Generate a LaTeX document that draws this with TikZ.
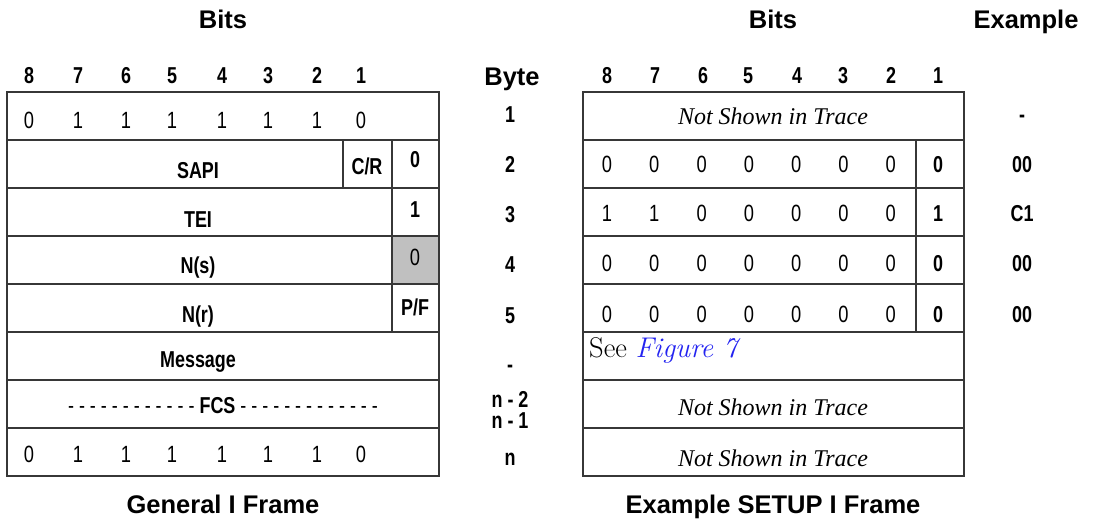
\documentclass[tikz,border=0pt]{standalone}
\usepackage{fontspec}
\newfontfamily\arial{Liberation Sans}
\newfontfamily\cond[FakeStretch=0.78]{Liberation Sans}
\newfontfamily\timesf{Liberation Serif}
\definecolor{linkblue}{RGB}{35,35,240}
\definecolor{cellgray}{RGB}{192,192,192}
\definecolor{gridc}{RGB}{55,55,55}
\begin{document}
\begin{tikzpicture}[x=1pt,y=-1pt,
  grid/.style={draw=gridc,line width=1.4pt},
  title/.style={anchor=base,inner sep=0pt,font=\arial\bfseries\fontsize{25.5}{30}\selectfont},
  bitv/.style={anchor=base,inner sep=0pt,font=\cond\fontsize{23.5}{27}\selectfont},
  lab/.style={anchor=base,inner sep=0pt,font=\cond\bfseries\fontsize{23}{27}\selectfont},
  trace/.style={anchor=base,inner sep=0pt,font=\timesf\itshape\fontsize{24}{28}\selectfont},
]
\useasboundingbox (0,0) rectangle (1099,520);

% ---------- left table ----------
\fill[cellgray] (392,236) rectangle (439,284);
\draw[grid] (7,92) rectangle (439,476);
\foreach \y in {140,188,236,284,332,380,428} \draw[grid] (7,\y) -- (439,\y);
\draw[grid] (343,140) -- (343,188);
\draw[grid] (392,140) -- (392,332);

\node[title] (bitsL) at (223,28) {Bits};
\foreach \b/\x in {8/29,7/78,6/126,5/172,4/222,3/268,2/317,1/361}
  \node[lab] (hL\b) at (\x,83) {\b};
\foreach \v/\x [count=\i] in {0/29,1/78,1/126,1/172,1/222,1/268,1/317,0/361}
  \node[bitv] (r1L\i) at (\x,128) {\v};
\node[lab] (sapi) at (198,178) {SAPI};
\node[lab] (cr) at (367,174) {C/R};
\node[lab] (ea0) at (415,167) {0};
\node[lab] (tei) at (198,227) {TEI};
\node[lab] (ea1) at (415,217) {1};
\node[lab] (ns) at (198,273) {N(s)};
\node[bitv] (isb) at (415,265) {0};
\node[lab] (nr) at (198,322) {N(r)};
\node[lab] (pf) at (415,315) {P/F};
\node[lab] (msg) at (198,367) {Message};
\node[lab] (fcs) at (223,413) {{\mdseries - - - - - - - - - - - -} FCS {\mdseries - - - - - - - - - - - - -}};
\foreach \v/\x [count=\i] in {0/29,1/78,1/126,1/172,1/222,1/268,1/317,0/361}
  \node[bitv] (r8L\i) at (\x,462) {\v};
\node[title] (capL) at (223,513) {General I Frame};

% ---------- byte column ----------
\node[title] (byte) at (512,85) {Byte};
\node[lab] (b1) at (510,122) {1};
\node[lab] (b2) at (510,172) {2};
\node[lab] (b3) at (510,222) {3};
\node[lab] (b4) at (510,272) {4};
\node[lab] (b5) at (510,323) {5};
\node[lab] (b6) at (510,372) {-};
\node[lab] (b7a) at (510,407) {n - 2};
\node[lab] (b7b) at (510,428) {n - 1};
\node[lab] (b8) at (510,465) {n};

% ---------- right table ----------
\draw[grid] (583,92) rectangle (964,476);
\foreach \y in {140,188,236,284,332,380,428} \draw[grid] (583,\y) -- (964,\y);
\draw[grid] (916,140) -- (916,332);

\node[title] (bitsR) at (773,28) {Bits};
\node[title] (exh) at (1026,28) {Example};
\foreach \b/\x in {8/607,7/655,6/703,5/748,4/797,3/843,2/891,1/938}
  \node[lab] (hR\b) at (\x,83) {\b};
\node[trace] (nst1) at (773,124) {Not Shown in Trace};
\foreach \r/\y/\vals/\last in {2/172/{0,0,0,0,0,0,0}/0, 3/221/{1,1,0,0,0,0,0}/1, 4/271/{0,0,0,0,0,0,0}/0, 5/322/{0,0,0,0,0,0,0}/0}{
  \foreach \v [count=\i] in \vals {
    \pgfmathsetmacro\xx{607+(\i-1)*47.3}
    \node[bitv] (rR\r c\i) at (\xx,\y) {\v};
  }
  \node[lab] (rR\r c8) at (938,\y) {\last};
}
\node[anchor=base west,inner sep=0pt,font=\fontsize{28.5}{32}\selectfont] (see) at (589,357) {See \textcolor{linkblue}{\itshape Figure 7}};
\node[trace] (nst7) at (773,415) {Not Shown in Trace};
\node[trace] (nst8) at (773,466) {Not Shown in Trace};
\node[title] (capR) at (773,513) {Example SETUP I Frame};

% ---------- example column ----------
\node[lab] (e1) at (1022,122) {-};
\node[lab] (e2) at (1022,172) {00};
\node[lab] (e3) at (1022,221) {C1};
\node[lab] (e4) at (1022,271) {00};
\node[lab] (e5) at (1022,322) {00};
\end{tikzpicture}
\end{document}
